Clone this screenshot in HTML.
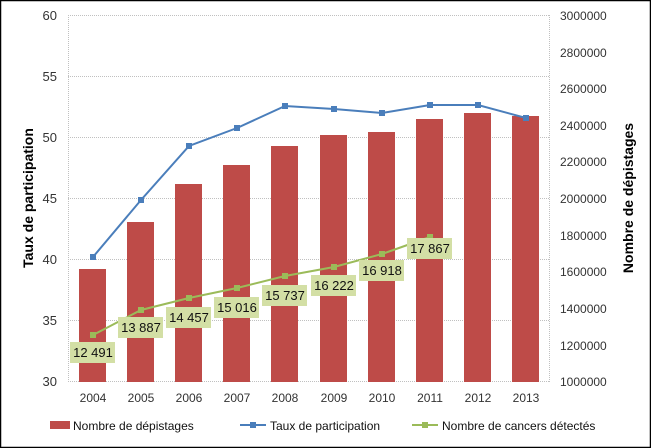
<!DOCTYPE html>
<html><head><meta charset="utf-8"><style>body{margin:0;background:#fff}svg{display:block}</style></head><body>
<svg width="651" height="448" xmlns="http://www.w3.org/2000/svg" font-family="Liberation Sans, sans-serif">
<rect x="0.5" y="0.5" width="650" height="447" fill="#fff" stroke="#000" stroke-width="1.5"/>
<g stroke="#c0c0c0" stroke-dasharray="1,1" stroke-width="1">
<line x1="68" y1="15.5" x2="549" y2="15.5"/><line x1="68" y1="76.5" x2="549" y2="76.5"/><line x1="68" y1="137.5" x2="549" y2="137.5"/><line x1="68" y1="198.5" x2="549" y2="198.5"/><line x1="68" y1="259.5" x2="549" y2="259.5"/><line x1="68" y1="320.5" x2="549" y2="320.5"/><line x1="68" y1="381.5" x2="549" y2="381.5"/>
<line x1="68.5" y1="15" x2="68.5" y2="382"/><line x1="549.5" y1="15" x2="549.5" y2="382"/>
</g>
<g fill="#333" font-size="13" text-anchor="end">
<text x="57" y="20">60</text><text x="57" y="81">55</text><text x="57" y="142">50</text><text x="57" y="203">45</text><text x="57" y="264">40</text><text x="57" y="325">35</text><text x="57" y="386">30</text>
</g>
<g fill="#333" font-size="12">
<text x="560" y="20">3000000</text><text x="560" y="57">2800000</text><text x="560" y="93">2600000</text><text x="560" y="130">2400000</text><text x="560" y="166">2200000</text><text x="560" y="203">2000000</text><text x="560" y="240">1800000</text><text x="560" y="276">1600000</text><text x="560" y="313">1400000</text><text x="560" y="350">1200000</text><text x="560" y="386">1000000</text>
</g>
<text transform="translate(33,198) rotate(-90)" text-anchor="middle" font-size="14" font-weight="bold" fill="#000">Taux de participation</text>
<text transform="translate(633,198) rotate(-90)" text-anchor="middle" font-size="14" font-weight="bold" fill="#000">Nombre de dépistages</text>
<g fill="#be4b48">
<rect x="79" y="269" width="27" height="113"/><rect x="127" y="222" width="27" height="160"/><rect x="175" y="184" width="27" height="198"/><rect x="223" y="165" width="27" height="217"/><rect x="271" y="146" width="27" height="236"/><rect x="320" y="135" width="27" height="247"/><rect x="368" y="132" width="27" height="250"/><rect x="416" y="119" width="27" height="263"/><rect x="464" y="113" width="27" height="269"/><rect x="512" y="116" width="27" height="266"/>
</g>
<g fill="#333" font-size="12" text-anchor="middle">
<text x="93" y="402">2004</text><text x="141" y="402">2005</text><text x="189" y="402">2006</text><text x="237" y="402">2007</text><text x="285" y="402">2008</text><text x="334" y="402">2009</text><text x="382" y="402">2010</text><text x="430" y="402">2011</text><text x="478" y="402">2012</text><text x="526" y="402">2013</text>
</g>
<polyline fill="none" stroke="#4a7ebb" stroke-width="2" points="93,257 141,200 189,146 237,128 285,106 334,109 382,113 430,105 478,105 526,118"/>
<g fill="#4a7ebb"><rect x="90" y="254" width="6" height="6"/><rect x="138" y="197" width="6" height="6"/><rect x="186" y="143" width="6" height="6"/><rect x="234" y="125" width="6" height="6"/><rect x="282" y="103" width="6" height="6"/><rect x="331" y="106" width="6" height="6"/><rect x="379" y="110" width="6" height="6"/><rect x="427" y="102" width="6" height="6"/><rect x="475" y="102" width="6" height="6"/><rect x="523" y="115" width="6" height="6"/></g>
<polyline fill="none" stroke="#9bbb59" stroke-width="2" points="93,335 141,310 189,298 237,288 285,276 334,267 382,254 430,237"/>
<g fill="#9bbb59"><rect x="90" y="332" width="6" height="6"/><rect x="138" y="307" width="6" height="6"/><rect x="186" y="295" width="6" height="6"/><rect x="234" y="285" width="6" height="6"/><rect x="282" y="273" width="6" height="6"/><rect x="331" y="264" width="6" height="6"/><rect x="379" y="251" width="6" height="6"/><rect x="427" y="234" width="6" height="6"/></g>
<g fill="#d3dfa5"><rect x="70" y="342" width="45" height="21"/><rect x="118" y="317" width="45" height="21"/><rect x="166" y="307" width="45" height="21"/><rect x="214" y="297" width="45" height="21"/><rect x="262" y="285" width="45" height="21"/><rect x="311" y="275" width="45" height="21"/><rect x="359" y="260" width="45" height="21"/><rect x="407" y="238" width="45" height="21"/></g>
<g fill="#111" font-size="13" text-anchor="middle">
<text x="93" y="357">12 491</text><text x="141" y="332">13 887</text><text x="189" y="322">14 457</text><text x="237" y="312">15 016</text><text x="285" y="300">15 737</text><text x="334" y="290">16 222</text><text x="382" y="275">16 918</text><text x="430" y="253">17 867</text>
</g>
<g font-size="12" fill="#111">
<rect x="50" y="421" width="20" height="8" fill="#be4b48"/><text x="73" y="430">Nombre de dépistages</text>
<line x1="240" y1="425" x2="266" y2="425" stroke="#4a7ebb" stroke-width="2"/><rect x="250" y="422" width="6" height="6" fill="#4a7ebb"/><text x="270" y="430">Taux de participation</text>
<line x1="412" y1="425" x2="438" y2="425" stroke="#9bbb59" stroke-width="2"/><rect x="422" y="422" width="6" height="6" fill="#9bbb59"/><text x="442" y="430">Nombre de cancers détectés</text>
</g>
</svg>
</body></html>
